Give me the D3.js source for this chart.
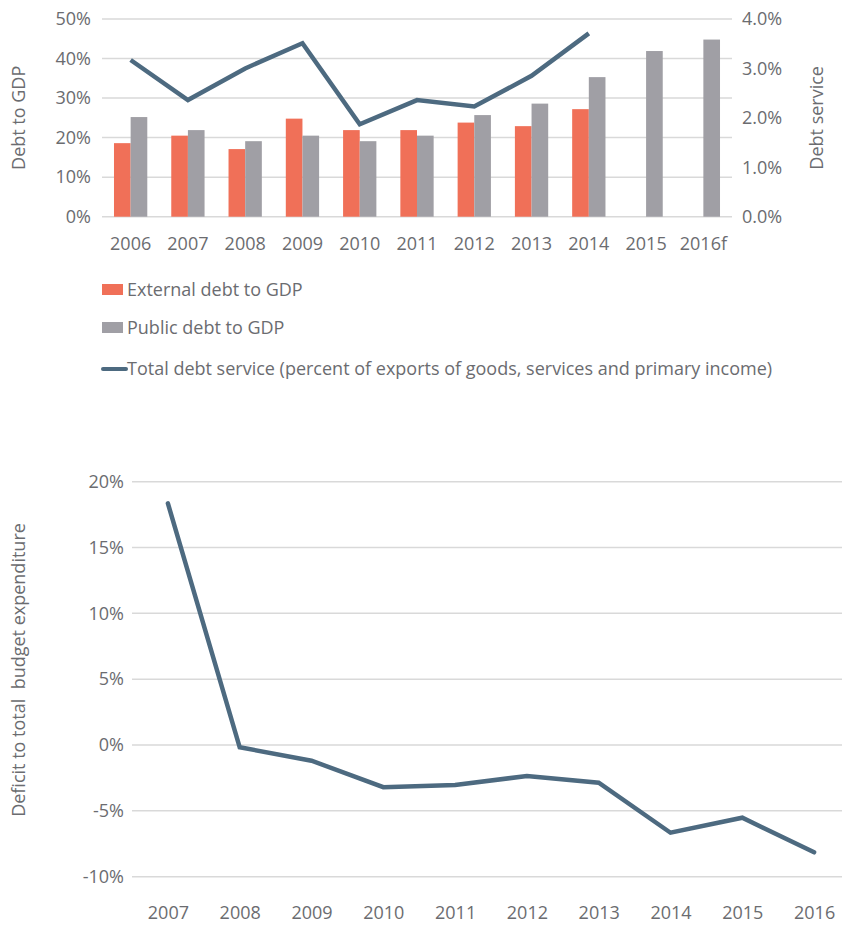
<!DOCTYPE html>
<html>
<head>
<meta charset="utf-8">
<script src="https://cdn.jsdelivr.net/npm/d3@7"></script>
<style>
  body { margin: 0; background: #fff; }
  svg { display: block; font-family: "Open Sans", sans-serif; }
</style>
</head>
<body>
<svg id="chart" width="842" height="932"></svg>
<script>
// top chart data
const years = ["2006", "2007", "2008", "2009", "2010", "2011", "2012", "2013", "2014", "2015", "2016f"];
const externalDebt = [18.6, 20.5, 17.1, 24.8, 21.9, 21.9, 23.8, 22.9, 27.2, null, null];
const publicDebt = [25.2, 21.9, 19.1, 20.5, 19.1, 20.5, 25.7, 28.6, 35.3, 41.9, 44.8];
const debtService = [3.17, 2.36, 3.0, 3.51, 1.87, 2.36, 2.23, 2.85, 3.71, null, null];
const leftTicks = [0, 10, 20, 30, 40, 50];
const rightTicks = [0, 1, 2, 3, 4];
const legendLabels = [
  "External debt to GDP",
  "Public debt to GDP",
  "Total debt service (percent of exports of goods, services and primary income)"
];

// bottom chart data
const deficitYears = ["2007", "2008", "2009", "2010", "2011", "2012", "2013", "2014", "2015", "2016"];
const deficit = [18.35, -0.17, -1.19, -3.2, -3.04, -2.35, -2.86, -6.66, -5.52, -8.15];
const deficitTicks = [-10, -5, 0, 5, 10, 15, 20];

const orange = "#f07058";
const grey = "#a09fa5";
const navy = "#4d6a80";
const textColor = "#6b6c70";
const gridColor = "#d9d9d9";
const fontSize = 18;

const svg = d3.select("#chart");

function styleText(sel) {
  sel.selectAll("text")
    .attr("font-family", "Open Sans, sans-serif")
    .attr("font-size", fontSize)
    .attr("fill", textColor);
}

// ---------- top chart ----------
const box1 = { left: 102, right: 732, top: 19, bottom: 216.7 };

const x = d3.scaleBand().domain(years).range([box1.left, box1.right]).paddingInner(0).paddingOuter(0);
const xSub = d3.scaleBand().domain(["ext", "pub"]).range([0, x.bandwidth()]).paddingInner(0).paddingOuter(0.72);
const yL = d3.scaleLinear().domain([0, 50]).range([box1.bottom, box1.top]);
const yR = d3.scaleLinear().domain([0, 4]).range([box1.bottom, box1.top]);

svg.append("g")
  .selectAll("line")
  .data(leftTicks)
  .join("line")
  .attr("x1", box1.left)
  .attr("x2", box1.right)
  .attr("y1", d => yL(d))
  .attr("y2", d => yL(d))
  .attr("stroke", gridColor)
  .attr("stroke-width", 1.5);

svg.append("g")
  .attr("transform", `translate(${box1.left - 8},0)`)
  .call(d3.axisLeft(yL).tickValues(leftTicks).tickFormat(d => d + "%").tickSize(0))
  .call(g => g.select(".domain").remove())
  .call(styleText);

svg.append("g")
  .attr("transform", `translate(${box1.right + 7},0)`)
  .call(d3.axisRight(yR).tickValues(rightTicks).tickFormat(d => d.toFixed(1) + "%").tickSize(0))
  .call(g => g.select(".domain").remove())
  .call(styleText);

svg.append("g")
  .attr("transform", `translate(0,${box1.bottom + 17.5})`)
  .call(d3.axisBottom(x).tickSize(0))
  .call(g => g.select(".domain").remove())
  .call(styleText);

const barData = years.map((y, i) => ({ year: y, ext: externalDebt[i], pub: publicDebt[i] }));

svg.append("g")
  .selectAll("rect.ext")
  .data(barData.filter(d => d.ext != null))
  .join("rect")
  .attr("class", "ext")
  .attr("x", d => x(d.year) + xSub("ext"))
  .attr("width", xSub.bandwidth())
  .attr("y", d => yL(d.ext))
  .attr("height", d => yL(0) - yL(d.ext))
  .attr("fill", orange);

svg.append("g")
  .selectAll("rect.pub")
  .data(barData)
  .join("rect")
  .attr("class", "pub")
  .attr("x", d => x(d.year) + xSub("pub"))
  .attr("width", xSub.bandwidth())
  .attr("y", d => yL(d.pub))
  .attr("height", d => yL(0) - yL(d.pub))
  .attr("fill", grey);

const lineTop = d3.line()
  .defined(d => d.v != null)
  .x(d => x(d.year) + x.bandwidth() / 2)
  .y(d => yR(d.v));

svg.append("path")
  .datum(years.map((y, i) => ({ year: y, v: debtService[i] })))
  .attr("d", lineTop)
  .attr("fill", "none")
  .attr("stroke", navy)
  .attr("stroke-width", 4.5)
  .attr("stroke-linejoin", "miter");

svg.append("text")
  .attr("transform", `translate(19,${(box1.top + box1.bottom) / 2}) rotate(-90)`)
  .attr("text-anchor", "middle")
  .attr("dy", "0.35em")
  .attr("font-size", fontSize)
  .attr("fill", textColor)
  .text("Debt to GDP");

svg.append("text")
  .attr("transform", `translate(817,${(box1.top + box1.bottom) / 2}) rotate(-90)`)
  .attr("text-anchor", "middle")
  .attr("dy", "0.35em")
  .attr("font-size", fontSize)
  .attr("fill", textColor)
  .text("Debt service");

// legend
const legend = svg.append("g").attr("transform", "translate(102,0)");
const legendY = [290, 328, 369];
legend.append("rect").attr("x", 0).attr("y", legendY[0] - 6).attr("width", 21).attr("height", 11).attr("fill", orange);
legend.append("rect").attr("x", 0).attr("y", legendY[1] - 6).attr("width", 21).attr("height", 11).attr("fill", grey);
legend.append("line").attr("x1", 1).attr("x2", 24).attr("y1", legendY[2]).attr("y2", legendY[2])
  .attr("stroke", navy).attr("stroke-width", 4).attr("stroke-linecap", "round");
legend.selectAll("text")
  .data(legendLabels)
  .join("text")
  .attr("x", 25)
  .attr("y", (d, i) => legendY[i])
  .attr("dy", "0.35em")
  .attr("font-size", fontSize)
  .attr("fill", textColor)
  .text(d => d);

// ---------- bottom chart ----------
const box2 = { left: 132, right: 850, top: 481.7, bottom: 876.7 };

const x2 = d3.scalePoint().domain(deficitYears).range([box2.left, box2.right]).padding(0.5);
const y2 = d3.scaleLinear().domain([-10, 20]).range([box2.bottom, box2.top]);

svg.append("g")
  .selectAll("line")
  .data(deficitTicks)
  .join("line")
  .attr("x1", box2.left)
  .attr("x2", box2.right)
  .attr("y1", d => y2(d))
  .attr("y2", d => y2(d))
  .attr("stroke", gridColor)
  .attr("stroke-width", 1.5);

svg.append("g")
  .attr("transform", `translate(${box2.left - 5},0)`)
  .call(d3.axisLeft(y2).tickValues(deficitTicks).tickFormat(d => d + "%").tickSize(0))
  .call(g => g.select(".domain").remove())
  .call(styleText);

svg.append("g")
  .attr("transform", `translate(0,${box2.bottom + 26.5})`)
  .call(d3.axisBottom(x2).tickSize(0))
  .call(g => g.select(".domain").remove())
  .call(styleText);

svg.append("path")
  .datum(deficitYears.map((y, i) => ({ year: y, v: deficit[i] })))
  .attr("d", d3.line().x(d => x2(d.year)).y(d => y2(d.v)))
  .attr("fill", "none")
  .attr("stroke", navy)
  .attr("stroke-width", 4.5)
  .attr("stroke-linecap", "round");

svg.append("text")
  .attr("transform", `translate(19,670) rotate(-90)`)
  .attr("text-anchor", "middle")
  .attr("dy", "0.35em")
  .attr("font-size", fontSize)
  .attr("fill", textColor)
  .style("white-space", "pre")
  .text("Deficit to total  budget expenditure");
</script>
</body>
</html>
